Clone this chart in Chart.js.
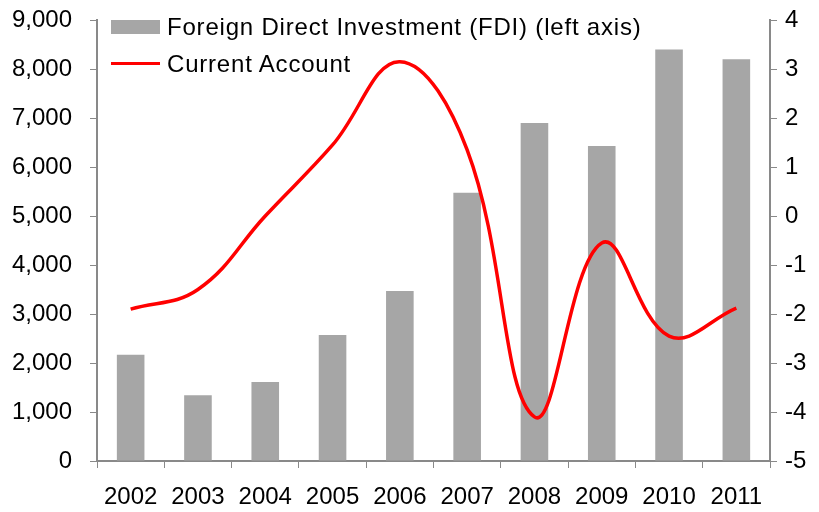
<!DOCTYPE html>
<html lang="en">
<head>
  <meta charset="UTF-8" />
  <title>FDI and Current Account</title>
  <script src="https://cdn.jsdelivr.net/npm/chart.js"></script>
  <style>
    * {
      margin: 0;
      padding: 0;
      box-sizing: border-box;
    }

    body {
      background: white;
      font-family: 'Liberation Sans', Arial, sans-serif;
    }

    .wrap {
      position: relative;
      width: 819px;
      height: 512px;
    }

    .legend {
      position: absolute;
      left: 111px;
      top: 8px;
      font-size: 24px;
      letter-spacing: 0.8px;
      color: #000;
      line-height: 37px;
    }

    .legend div {
      display: flex;
      align-items: center;
      white-space: nowrap;
    }

    .legend .bar {
      width: 49px;
      height: 14px;
      background: #a6a6a6;
      margin-right: 7px;
    }

    .legend .line {
      width: 49px;
      height: 3px;
      background: #ff0000;
      margin-right: 7px;
    }
  </style>
</head>
<body>
  <div class="wrap">
    <canvas id="chart" width="819" height="512"></canvas>
    <div class="legend">
      <div><span class="bar"></span>Foreign Direct Investment (FDI) (left axis)</div>
      <div><span class="line"></span>Current Account</div>
    </div>
  </div>

  <script>
    const years = ['2002', '2003', '2004', '2005', '2006', '2007', '2008', '2009', '2010', '2011'];
    const fdi = [2170, 1340, 1610, 2570, 3470, 5475, 6900, 6430, 8400, 8200];
    const currentAccount = [-1.9, -1.5, 0.0, 1.45, 3.15, 1.35, -4.1, -0.55, -2.45, -1.88];

    const axisColor = '#898989';
    const tickFont = { family: "'Liberation Sans', Arial, sans-serif", size: 24 };

    // keep the plot box where the reference has it
    function fixY(width) {
      return s => {
        s.width = width;
        s.paddingTop = 0;
        s.paddingBottom = 0;
      };
    }

    new Chart(document.getElementById('chart'), {
      data: {
        labels: years,
        datasets: [
          {
            type: 'line',
            label: 'Current Account',
            data: currentAccount,
            yAxisID: 'y1',
            borderColor: '#ff0000',
            borderWidth: 3.5,
            pointRadius: 0,
            tension: 0.4,
            order: 0
          },
          {
            type: 'bar',
            label: 'Foreign Direct Investment (FDI) (left axis)',
            data: fdi,
            yAxisID: 'y',
            backgroundColor: '#a6a6a6',
            categoryPercentage: 1,
            barPercentage: 0.41,
            order: 1
          }
        ]
      },
      options: {
        responsive: false,
        animation: false,
        layout: { padding: { top: 20, bottom: 0, left: 0, right: 0 } },
        plugins: {
          legend: { display: false },
          tooltip: { enabled: false }
        },
        scales: {
          x: {
            offset: true,
            grid: { offset: true, drawOnChartArea: false, color: axisColor, tickLength: 7 },
            border: { color: axisColor, width: 2 },
            ticks: { color: '#000', font: { family: "'Liberation Sans', Arial, sans-serif", size: 24 }, padding: 15, maxRotation: 0 },
            afterFit: s => { s.height = 51; s.paddingLeft = 0; s.paddingRight = 0; }
          },
          y: {
            position: 'left',
            min: 0,
            max: 9000,
            grid: { drawOnChartArea: false, color: axisColor, tickLength: 7 },
            border: { color: axisColor, width: 2 },
            ticks: {
              stepSize: 1000,
              color: '#000',
              font: tickFont,
              padding: 18,
              callback: v => v.toLocaleString('en-US')
            },
            afterFit: fixY(97)
          },
          y1: {
            position: 'right',
            min: -5,
            max: 4,
            grid: { drawOnChartArea: false, color: axisColor, tickLength: 7 },
            border: { color: axisColor, width: 2 },
            ticks: { stepSize: 1, color: '#000', font: tickFont, padding: 8 },
            afterFit: fixY(49)
          }
        }
      }
    });
  </script>
</body>
</html>
